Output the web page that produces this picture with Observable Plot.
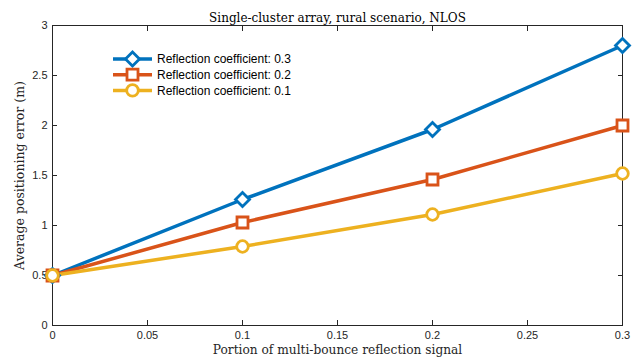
<!DOCTYPE html>
<html><head><meta charset="utf-8">
<script src="https://cdn.jsdelivr.net/npm/d3@7"></script>
<script src="https://cdn.jsdelivr.net/npm/@observablehq/plot@0.6"></script>
<style>body{margin:0;background:#fff}</style>
</head><body><div id="chart"></div>
<script>
const portions = [0, 0.1, 0.2, 0.3];
const series = ["Reflection coefficient: 0.3", "Reflection coefficient: 0.2", "Reflection coefficient: 0.1"];
const err03 = [0.5, 1.26, 1.96, 2.8];
const err02 = [0.5, 1.03, 1.46, 2.0];
const err01 = [0.5, 0.79, 1.11, 1.52];
const colors = ["#0072BD", "#D95319", "#EDB120"];
const symbols = ["diamond2", "square", "circle"];
const xTicks = [0, 0.05, 0.1, 0.15, 0.2, 0.25, 0.3];
const yTicks = [0, 0.5, 1, 1.5, 2, 2.5, 3];
const titleText = "Single-cluster array, rural scenario, NLOS";
const xLabel = "Portion of multi-bounce reflection signal";
const yLabel = "Average positioning error (m)";

const vals = [err03, err02, err01];
const data = [];
series.forEach((s, i) => portions.forEach((p, j) => data.push({series: s, x: p, y: vals[i][j]})));

const serif = "'DejaVu Serif', serif";
const sans = "'Liberation Sans', Arial, sans-serif";
const markerR = [6.3, 6.2, 5.8];

const fmt = d => String(d);
const chart = Plot.plot({
  width: 643, height: 359,
  marginLeft: 52, marginRight: 21, marginTop: 25, marginBottom: 34,
  style: {fontFamily: sans, fontSize: "11px", color: "#262626", background: "#fff"},
  x: {domain: [0, 0.3]},
  y: {domain: [0, 3]},
  marks: [
    Plot.frame({stroke: "#262626", strokeWidth: 1}),
    Plot.axisX(xTicks, {anchor: "bottom", tickSize: -5, tickFormat: () => "", label: null, stroke: "#262626"}),
    Plot.axisX(xTicks, {anchor: "top", tickSize: -5, tickFormat: () => "", label: null, stroke: "#262626"}),
    Plot.axisY(yTicks, {anchor: "left", tickSize: -5, tickFormat: () => "", label: null, stroke: "#262626"}),
    Plot.axisY(yTicks, {anchor: "right", tickSize: -5, tickFormat: () => "", label: null, stroke: "#262626"}),
    Plot.axisX(xTicks, {anchor: "bottom", tickSize: 0, tickPadding: 6, tickFormat: fmt, label: null, fontSize: 11, fill: "#262626"}),
    Plot.axisY(yTicks, {anchor: "left", tickSize: 0, tickPadding: 5, tickFormat: fmt, label: null, fontSize: 11, fill: "#262626"}),
    Plot.line(data, {x: "x", y: "y", z: "series", stroke: d => colors[series.indexOf(d.series)], strokeWidth: 3.5}),
    ...series.map((s, i) => Plot.dot(data.filter(d => d.series === s), {x: "x", y: "y", symbol: symbols[i], stroke: colors[i], fill: "white", strokeWidth: 2.8, r: markerR[i]})),
    Plot.text([titleText], {frameAnchor: "top", dy: -12, text: d => d, fontFamily: serif, fontSize: 12, fill: "#000"}),
    Plot.text([xLabel], {frameAnchor: "bottom", dy: 28, text: d => d, fontFamily: serif, fontSize: 12.2, fill: "#262626"}),
    Plot.text([yLabel], {frameAnchor: "left", dx: -33, rotate: -90, textAnchor: "middle", text: d => d, fontFamily: serif, fontSize: 12.5, fill: "#262626"})
  ]
});
document.getElementById("chart").appendChild(chart);

// legend
const svg = d3.select(chart);
const lg = svg.append("g");
series.forEach((s, i) => {
  const y = 59 + i * 15.7;
  lg.append("line").attr("x1", 113).attr("x2", 152).attr("y1", y).attr("y2", y)
    .attr("stroke", colors[i]).attr("stroke-width", 3.5);
  const type = i === 0 ? d3.symbolDiamond2 : (i === 1 ? d3.symbolSquare : d3.symbolCircle);
  const sym = d3.symbol().type(type).size(Math.PI * markerR[i] * markerR[i]);
  lg.append("path").attr("d", sym()).attr("transform", `translate(132.5,${y})`)
    .attr("fill", "white").attr("stroke", colors[i]).attr("stroke-width", 2.8);
  lg.append("text").attr("x", 157).attr("y", y).attr("dy", "0.35em").attr("text-anchor", "start")
    .attr("font-family", sans).attr("font-size", 12).attr("fill", "#000").text(s);
});
</script>
</body></html>
